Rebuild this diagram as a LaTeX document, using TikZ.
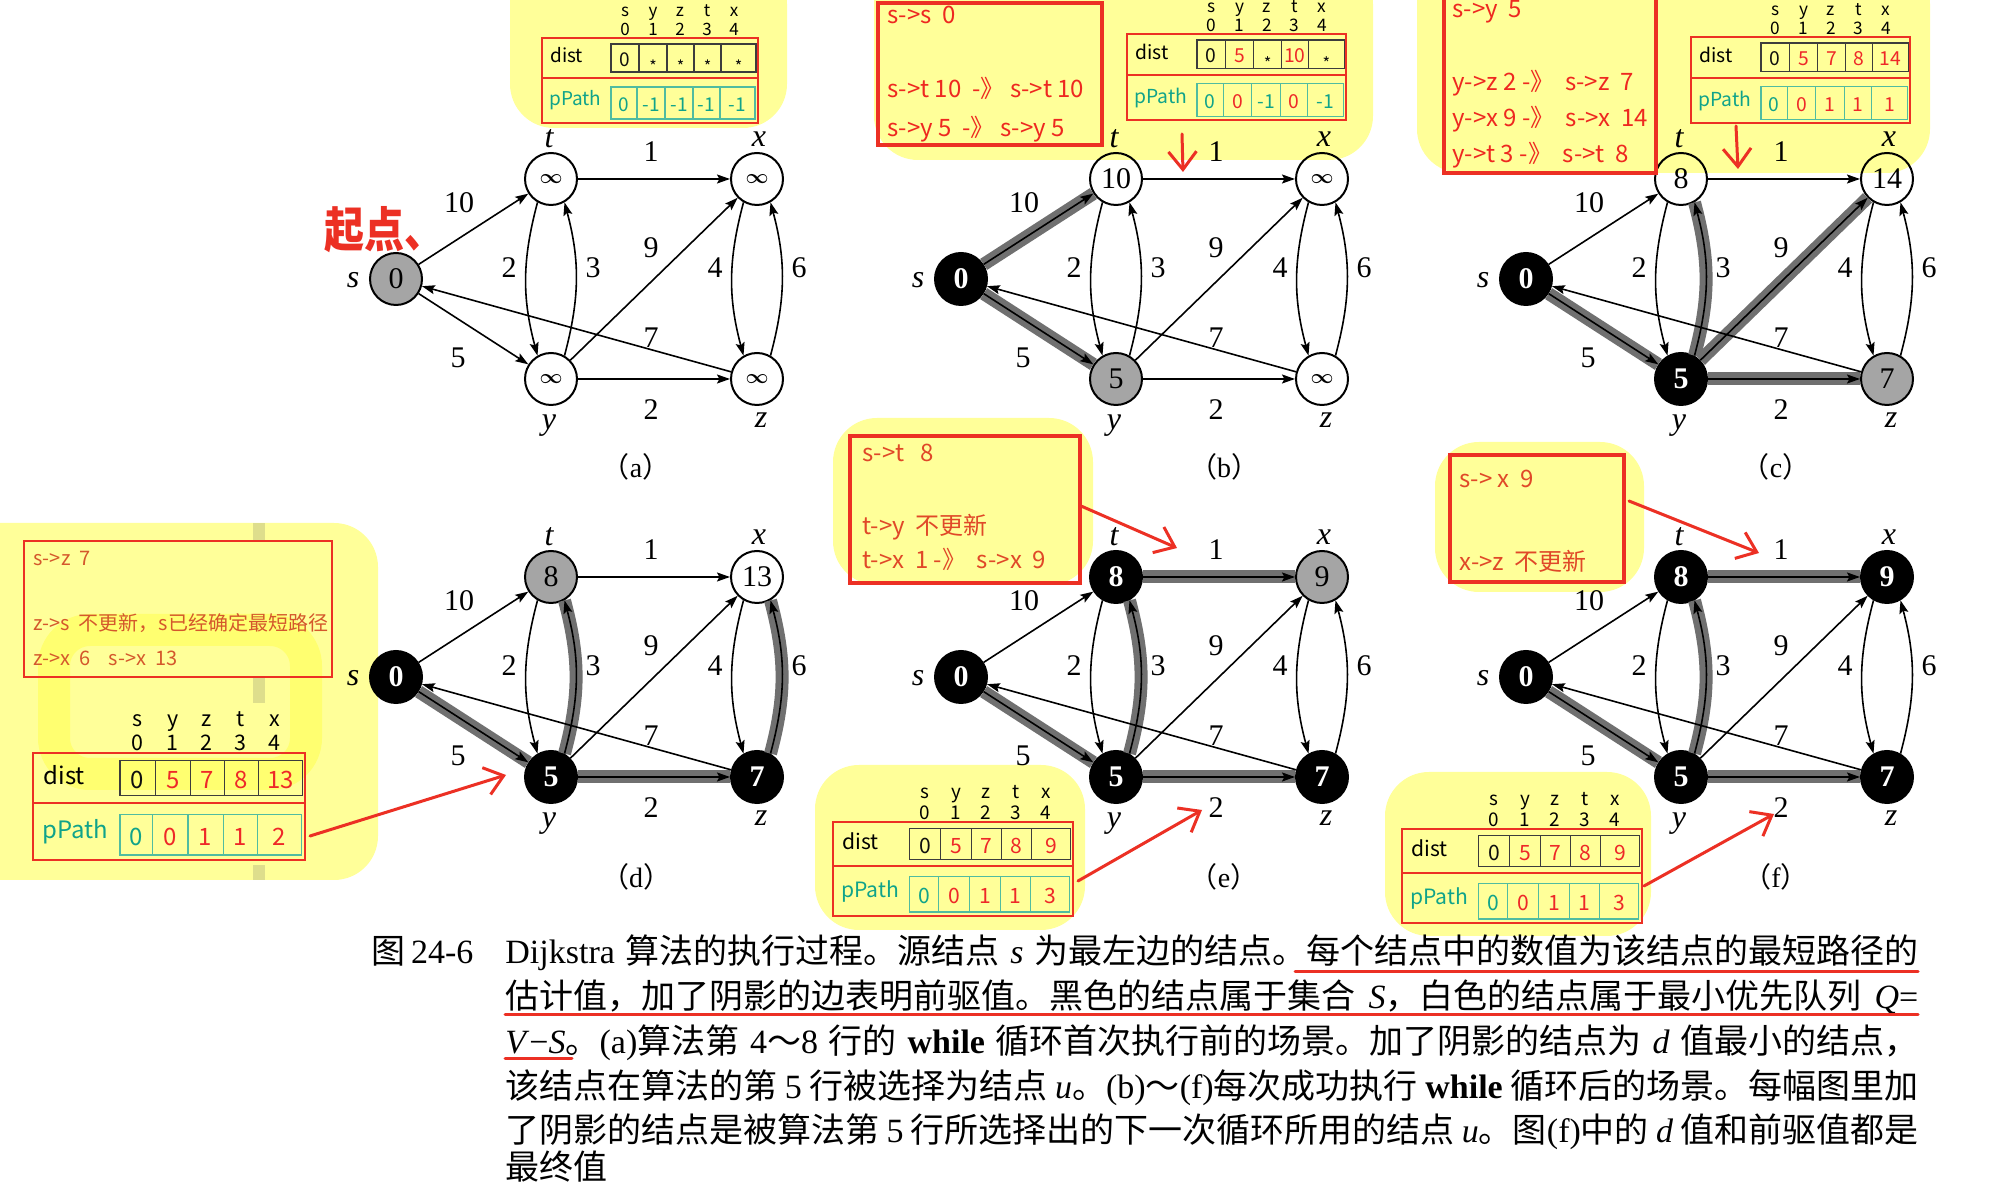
\documentclass[tikz,border=0pt]{standalone}
\usepackage{fontspec}
\setmainfont{Liberation Serif}
\newfontfamily\cjk{Noto Sans CJK SC}
\usetikzlibrary{arrows.meta}
\XeTeXlinebreaklocale "zh"
\XeTeXlinebreakskip=0pt plus 2pt minus 0.6pt
\definecolor{hl}{RGB}{255,255,153}
\definecolor{hltwo}{RGB}{255,255,112}
\definecolor{stripe}{RGB}{222,222,140}
\definecolor{rline}{RGB}{236,48,36}
\definecolor{rtxt}{RGB}{238,40,32}
\definecolor{otxt}{RGB}{212,88,44}
\definecolor{etxt}{RGB}{224,72,40}
\definecolor{tl}{RGB}{16,163,138}
\definecolor{tline}{RGB}{80,188,160}
\definecolor{dline}{RGB}{60,60,60}
\definecolor{dk}{RGB}{15,15,15}
\definecolor{rd}{RGB}{238,40,40}
\definecolor{shadecol}{RGB}{112,112,112}
\definecolor{gnode}{RGB}{165,165,165}
\newcommand\st{\raisebox{-3pt}{\fontsize{8}{8}\selectfont *}}
\newcommand\infsym{{\fontsize{10}{10}\selectfont\boldmath$\infty$}}
\tikzset{
 gn/.style={circle,draw=black,line width=1pt,minimum size=26pt,inner sep=0pt,font=\fontsize{15}{15}\selectfont},
 wn/.style={gn},
 grn/.style={gn,fill=gnode},
 bkn/.style={gn,fill=black,text=white,font=\fontsize{15}{15}\selectfont\bfseries},
 edge/.style={draw=black,line width=0.8pt,-{Stealth[length=6.5pt,width=4.5pt,inset=1.2pt]}},
 shd/.style={preaction={draw=shadecol,line width=6.5pt,arrows=-}},
 wlab/.style={inner sep=0pt,font=\fontsize{15}{15}\selectfont},
 vlab/.style={inner sep=0pt,font=\fontsize{16}{16}\selectfont\itshape},
 caplab/.style={inner sep=0pt,font=\fontsize{14}{14}\selectfont},
 rbox/.style={draw=rline,line width=1.7pt},
 atxt/.style={inner sep=0pt,anchor=base west,text=rtxt,font=\cjk\fontsize{12}{12}\selectfont},
 tabtxt/.style={inner sep=0pt,font=\cjk\fontsize{9.5}{9.5}\selectfont},
 headtxt/.style={inner sep=0pt,anchor=base,font=\cjk\fontsize{8.5}{8.5}\selectfont},
 rarrow/.style={draw=rline,line width=1.5pt,line cap=round,-{Straight Barb[length=9pt,width=14pt,line width=1.5pt]}},
 uline/.style={draw=rline,line width=1.5pt,line cap=round},
 capline/.style={inner sep=0pt,anchor=base west,font=\fontsize{17}{17}\selectfont},
}
\newcommand\resetE{\tikzset{e st/.style={},e sy/.style={},e tx/.style={},e ty/.style={},e yt/.style={},e yx/.style={},e yz/.style={},e xz/.style={},e zx/.style={},e zs/.style={}}}
\newcommand\glabels[1]{%
 \node[wlab] (#1w10) at (63,76) {10};
 \node[wlab] (#1w1) at (255,127.5) {1};
 \node[wlab] (#1w2a) at (113,11.5) {2};
 \node[wlab] (#1w3) at (197,11.5) {3};
 \node[wlab] (#1w9) at (255,31) {9};
 \node[wlab] (#1w4) at (319,11.5) {4};
 \node[wlab] (#1w6) at (403,11.5) {6};
 \node[wlab] (#1w7) at (255,-58.5) {7};
 \node[wlab] (#1w5) at (62,-79) {5};
 \node[wlab] (#1w2b) at (255,-130.5) {2};
 \node[vlab] (#1ls) at (-43,-1.5) {s};
 \node[vlab] (#1lt) at (153,140) {t};
 \node[vlab] (#1lx) at (363,140) {x};
 \node[vlab] (#1ly) at (153,-146.5) {y};
 \node[vlab] (#1lz) at (365,-141) {z};
}
\newcommand\gedges[1]{%
 \draw[edge,e st] (#1-s) -- (#1-t);
 \draw[edge,e sy] (#1-s) -- (#1-y);
 \draw[edge,e tx] (#1-t) -- (#1-x);
 \draw[edge,e yx] (#1-y) -- (#1-x);
 \draw[edge,e yz] (#1-y) -- (#1-z);
 \draw[edge,e ty] (#1-t.240) to[out=255,in=105] (#1-y.120);
 \draw[edge,e yt] (#1-y.60) to[out=75,in=-75] (#1-t.300);
 \draw[edge,e xz] (#1-x.240) to[out=255,in=105] (#1-z.120);
 \draw[edge,e zx] (#1-z.60) to[out=75,in=-75] (#1-x.300);
 \draw[edge,e zs] (#1-z) -- (#1-s);
}
\newcommand\ptab[6]{%
\begin{scope}[shift={(#1,-#2)},scale=#3,transform shape]
 \draw[rline,line width=1pt] (0,0) rectangle (216,-85);
 \draw[rline,line width=1pt] (0,-40) -- (216,-40);
 \draw[draw=dline,line width=0.6pt] (69,-6) rectangle (214,-34);
 \foreach \b in {97,125,152,179} {\draw[draw=dline,line width=0.6pt] (\b,-6) -- (\b,-34);}
 \draw[draw=tline,line width=0.6pt] (69,-49) rectangle (213,-81);
 \foreach \b in {95,123,151,178} {\draw[draw=tline,line width=0.6pt] (\b,-49) -- (\b,-81);}
 \node[tabtxt,anchor=base west] (#6dist) at (8,-25) {dist};
 \node[tabtxt,anchor=base west,text=tl] (#6pp) at (7,-68) {pPath};
 \foreach \l/\c [count=\i] in {s/83,y/111,z/138,t/165,x/192} {\node[headtxt] (#6h\i) at (\c,21) {\l};}
 \foreach \l/\c [count=\i] in {0/83,1/111,2/138,3/165,4/192} {\node[headtxt] (#6n\i) at (\c,2) {\l};}
 \foreach \v/\cc [count=\i] in {#4} {\pgfmathsetmacro\cx{{83,111,138.5,165.5,196.5}[\i-1]}\node[tabtxt,anchor=base,text=\cc] (#6d\i) at (\cx,-28.5) {\v};}
 \foreach \v/\cc [count=\i] in {#5} {\pgfmathsetmacro\cx{{82,109,137,164.5,195.5}[\i-1]}\node[tabtxt,anchor=base,text=\cc] (#6p\i) at (\cx,-73.5) {\v};}
\end{scope}}
\begin{document}
\begin{tikzpicture}[x=0.5pt,y=0.5pt]
\useasboundingbox (0,0) rectangle (1994,-1186);
\fill[white] (0,0) rectangle (1994,-1186);
% highlight regions
\fill[hl,rounded corners=22pt] (510,40) rectangle (787,-128);
\fill[hl,rounded corners=22pt] (874,40) rectangle (1373,-160);
\fill[hl,rounded corners=22pt] (1417,40) rectangle (1930,-173);
\fill[hl,rounded corners=22pt] (-60,-523) rectangle (378,-880);
\draw[hltwo,line width=16pt,rounded corners=18pt] (54,-630) rectangle (306,-774);
\fill[stripe] (253,-523) rectangle (265,-541);
\fill[stripe] (253,-677) rectangle (265,-703);
\fill[stripe] (253,-865) rectangle (265,-880);
\fill[hl,rounded corners=22pt] (833,-418) rectangle (1093,-585);
\fill[hl,rounded corners=22pt] (815,-765) rectangle (1085,-930);
\fill[hl,rounded corners=22pt] (1435,-442) rectangle (1644,-592);
\fill[hl,rounded corners=22pt] (1385,-772) rectangle (1651,-936);
% graph a
\begin{scope}[shift={(396,-279)}]
 \node[grn] (a-s) at (0,0) {0};
 \node[wn] (a-t) at (155,100) {\infsym};
 \node[wn] (a-x) at (361,100) {\infsym};
 \node[wn] (a-y) at (155,-100) {\infsym};
 \node[wn] (a-z) at (361,-100) {\infsym};
 \glabels{a}
\end{scope}
\resetE
\gedges{a}
% graph b
\begin{scope}[shift={(961,-279)}]
 \node[bkn] (b-s) at (0,0) {0};
 \node[wn] (b-t) at (155,100) {10};
 \node[wn] (b-x) at (361,100) {\infsym};
 \node[grn] (b-y) at (155,-100) {5};
 \node[wn] (b-z) at (361,-100) {\infsym};
 \glabels{b}
\end{scope}
\resetE\tikzset{e st/.style=shd,e sy/.style=shd}
\gedges{b}
% graph c
\begin{scope}[shift={(1526,-279)}]
 \node[bkn] (c-s) at (0,0) {0};
 \node[wn] (c-t) at (155,100) {8};
 \node[wn] (c-x) at (361,100) {14};
 \node[bkn] (c-y) at (155,-100) {5};
 \node[grn] (c-z) at (361,-100) {7};
 \glabels{c}
\end{scope}
\resetE\tikzset{e sy/.style=shd,e yt/.style=shd,e yx/.style=shd,e yz/.style=shd}
\gedges{c}
% graph d
\begin{scope}[shift={(396,-677)}]
 \node[bkn] (d-s) at (0,0) {0};
 \node[grn] (d-t) at (155,100) {8};
 \node[wn] (d-x) at (361,100) {13};
 \node[bkn] (d-y) at (155,-100) {5};
 \node[bkn] (d-z) at (361,-100) {7};
 \glabels{d}
\end{scope}
\resetE\tikzset{e sy/.style=shd,e yt/.style=shd,e zx/.style=shd,e yz/.style=shd}
\gedges{d}
% graph e
\begin{scope}[shift={(961,-677)}]
 \node[bkn] (e-s) at (0,0) {0};
 \node[bkn] (e-t) at (155,100) {8};
 \node[grn] (e-x) at (361,100) {9};
 \node[bkn] (e-y) at (155,-100) {5};
 \node[bkn] (e-z) at (361,-100) {7};
 \glabels{e}
\end{scope}
\resetE\tikzset{e sy/.style=shd,e yt/.style=shd,e tx/.style=shd,e yz/.style=shd}
\gedges{e}
% graph f
\begin{scope}[shift={(1526,-677)}]
 \node[bkn] (f-s) at (0,0) {0};
 \node[bkn] (f-t) at (155,100) {8};
 \node[bkn] (f-x) at (361,100) {9};
 \node[bkn] (f-y) at (155,-100) {5};
 \node[bkn] (f-z) at (361,-100) {7};
 \glabels{f}
\end{scope}
\resetE\tikzset{e sy/.style=shd,e yt/.style=shd,e tx/.style=shd,e yz/.style=shd}
\gedges{f}
% sub captions
\node[caplab] (capa) at (636,-467) {{\cjk （}a{\cjk ）}};
\node[caplab] (capb) at (1224,-467) {{\cjk （}b{\cjk ）}};
\node[caplab] (capc) at (1776,-467) {{\cjk （}c{\cjk ）}};
\node[caplab] (capd) at (636,-877) {{\cjk （}d{\cjk ）}};
\node[caplab] (cape) at (1224,-877) {{\cjk （}e{\cjk ）}};
\node[caplab] (capf) at (1776,-877) {{\cjk （}f{\cjk ）}};
% start mark
\node[inner sep=0pt,anchor=west,text=rline,font=\cjk\fontsize{20}{20}\selectfont\bfseries] (qidian) at (324,-230) {\scalebox{1}[1.2]{起点、}};
% tables
\ptab{542}{38}{1}{0/dk,\st/dk,\st/dk,\st/dk,\st/dk}{0/tl,-1/tl,-1/tl,-1/tl,-1/tl}{ta}
\ptab{1127}{34}{1.015}{0/dk,5/rd,\st/dk,10/rd,\st/dk}{0/tl,0/rd,-1/tl,0/rd,-1/tl}{tb}
\ptab{1691}{37}{1.015}{0/dk,5/rd,7/rd,8/rd,14/rd}{0/tl,0/rd,1/rd,1/rd,1/rd}{tc}
\ptab{33}{753}{1.26}{0/dk,5/rd,7/rd,8/rd,13/rd}{0/tl,0/rd,1/rd,1/rd,2/rd}{td}
\ptab{833}{822}{1.11}{0/dk,5/rd,7/rd,8/rd,9/rd}{0/tl,0/rd,1/rd,1/rd,3/rd}{te}
\ptab{1402}{829}{1.11}{0/dk,5/rd,7/rd,8/rd,9/rd}{0/tl,0/rd,1/rd,1/rd,3/rd}{tf}
% text boxes
\draw[rbox] (878,-3) rectangle (1102,-145);
\node[atxt] (bt1) at (887,-24) {s->s~~0};
\node[atxt] (bt2) at (887,-98) {s->t 10~~-》 s->t 10};
\node[atxt] (bt3) at (887,-137) {s->y 5~~-》 s->y 5};
\draw[rbox] (1444,5) rectangle (1656,-173);
\node[atxt] (ct1) at (1452,-18) {s->y~~5};
\node[atxt] (ct2) at (1452,-91) {y->z 2 -》~~s->z~~7};
\node[atxt] (ct3) at (1452,-127) {y->x 9 -》~~s->x~~14};
\node[atxt] (ct4) at (1452,-163) {y->t 3 -》~~s->t~~8};
\draw[rbox,line width=1.35pt] (24,-541) rectangle (332,-677);
\node[atxt,text=otxt,font=\cjk\fontsize{10}{10}\selectfont] (dt1) at (33,-565.5) {s->z~~7};
\node[atxt,text=otxt,font=\cjk\fontsize{10}{10}\selectfont] (dt2) at (33,-630.5) {z->s~~不更新，s已经确定最短路径};
\node[atxt,text=otxt,font=\cjk\fontsize{10}{10}\selectfont] (dt3) at (33,-665.5) {z->x~~6~~~~s->x~~13};
\draw[rbox,line width=2pt] (850,-436) rectangle (1080,-583);
\node[atxt,text=etxt] (et1) at (862,-462) {s->t~~~8};
\node[atxt,text=etxt] (et2) at (862,-535) {t->y~~不更新};
\node[atxt,text=etxt] (et3) at (862,-569) {t->x~~1 -》~~s->x~~9};
\draw[rbox,line width=2pt] (1450,-455) rectangle (1624,-582);
\node[atxt,text=etxt] (ft1) at (1459,-488) {s->~x~~9};
\node[atxt,text=etxt] (ft2) at (1459,-571) {x->z~~不更新};
% red arrows
\coordinate (rbs) at (1182,-134); \coordinate (rbe) at (1183,-172);
\coordinate (rcs) at (1736,-126); \coordinate (rce) at (1738,-169);
\coordinate (rds) at (310,-836); \coordinate (rde) at (506,-775);
\coordinate (res) at (1081,-506); \coordinate (ree) at (1177,-548);
\coordinate (rfs) at (1629,-501); \coordinate (rfe) at (1759,-553);
\coordinate (rgs) at (1078,-881); \coordinate (rge) at (1202,-810);
\coordinate (rhs) at (1644,-886); \coordinate (rhe) at (1774,-814);
\draw[rarrow] (rbs) -- (rbe);
\draw[rarrow] (rcs) -- (rce);
\draw[rarrow] (rds) -- (rde);
\draw[rarrow] (res) -- (ree);
\draw[rarrow] (rfs) -- (rfe);
\draw[rarrow] (rgs) -- (rge);
\draw[rarrow] (rhs) -- (rhe);
% caption
\node[capline] (capfig) at (371,-964) {{\cjk 图}\,24-6};
\node[capline] (cl1) at (505,-964) {\makebox[706.5pt][s]{Dijkstra {\cjk 算法的执行过程。源结点} \textit{s} {\cjk 为最左边的结点。每个结点中的数值为该结点的最短路径的}}};
\node[capline] (cl2) at (505,-1009) {\makebox[706.5pt][s]{{\cjk 估计值，加了阴影的边表明前驱值。黑色的结点属于集合} \textit{S}{\cjk ，白色的结点属于最小优先队列} \textit{Q}=}};
\node[capline] (cl3) at (505,-1054) {\makebox[706.5pt][s]{\textit{V}−\textit{S}{\cjk 。}(a){\cjk 算法第} 4{\cjk ～}8 {\cjk 行的} \textbf{while} {\cjk 循环首次执行前的场景。加了阴影的结点为} \textit{d} {\cjk 值最小的结点，}}};
\node[capline] (cl4) at (505,-1098.5) {\makebox[706.5pt][s]{{\cjk 该结点在算法的第} 5 {\cjk 行被选择为结点} \textit{u}{\cjk 。}(b){\cjk ～}(f){\cjk 每次成功执行} \textbf{while} {\cjk 循环后的场景。每幅图里加}}};
\node[capline] (cl5) at (505,-1143) {\makebox[706.5pt][s]{{\cjk 了阴影的结点是被算法第} 5 {\cjk 行所选择出的下一次循环所用的结点} \textit{u}{\cjk 。图}(f){\cjk 中的} \textit{d} {\cjk 值和前驱值都是}}};
\node[capline] (cl6) at (505,-1180) {{\cjk 最终值}};
\coordinate (u1a) at (1295,-972); \coordinate (u1b) at (1918,-972);
\coordinate (u2a) at (505,-1015); \coordinate (u2b) at (1918,-1015);
\coordinate (u3a) at (505,-1059); \coordinate (u3b) at (572,-1059);
\draw[uline] (u1a) -- (u1b);
\draw[uline] (u2a) -- (u2b);
\draw[uline] (u3a) -- (u3b);
\end{tikzpicture}
\end{document}
